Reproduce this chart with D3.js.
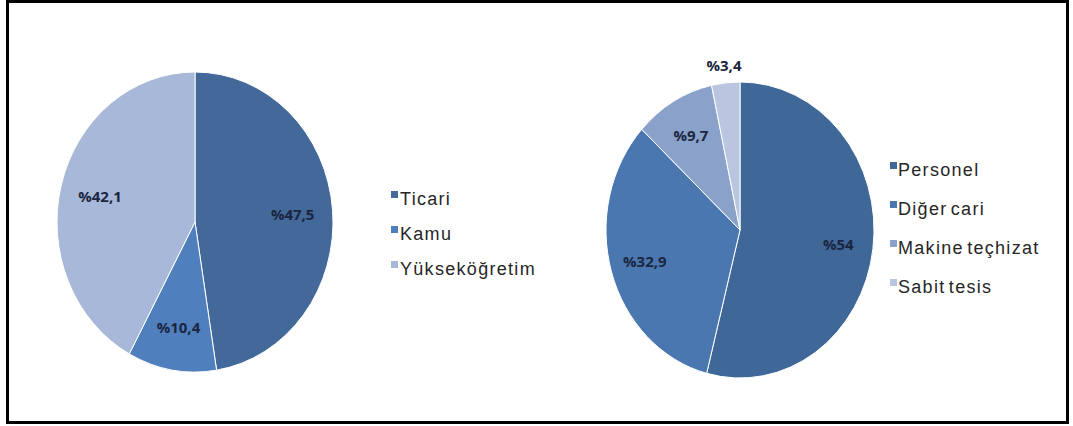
<!DOCTYPE html>
<html>
<head>
<meta charset="utf-8">
<script src="https://cdn.jsdelivr.net/npm/d3@7"></script>
<style>
  html, body { margin: 0; padding: 0; background: #fff; }
  svg { display: block; }
</style>
</head>
<body>
<svg id="chart" width="1073" height="426"></svg>
<script>
// ---- Data ----
const leftCategories = ["Ticari", "Kamu", "Yükseköğretim"];
const leftValues = [47.5, 10.4, 42.1];
const leftLabels = ["%47,5", "%10,4", "%42,1"];
const leftColors = ["#43689a", "#4f7fbd", "#a8b8d8"];

const rightCategories = ["Personel", "Diğer cari", "Makine teçhizat", "Sabit tesis"];
const rightValues = [54, 32.9, 9.7, 3.4];
const rightLabels = ["%54", "%32,9", "%9,7", "%3,4"];
const rightColors = ["#3f6797", "#4b77b0", "#8aa1c9", "#bac6e0"];

// ---- Layout ----
const svg = d3.select("#chart");
svg.append("rect")
  .attr("x", 7.5).attr("y", 1.5)
  .attr("width", 1060).attr("height", 421)
  .attr("fill", "#fff").attr("stroke", "#000").attr("stroke-width", 3);

function drawPie(cfg) {
  const pie = d3.pie().sort(null).value(d => d.v);
  const data = cfg.values.map((v, i) => ({ v, i }));
  const arcs = pie(data);
  const sy = cfg.ry / cfg.rx;
  const g = svg.append("g")
    .attr("transform", `translate(${cfg.cx},${cfg.cy}) scale(1,${sy})`);
  const arc = d3.arc().innerRadius(0).outerRadius(cfg.rx);
  g.selectAll("path").data(arcs).join("path")
    .attr("d", arc)
    .attr("fill", d => cfg.colors[d.data.i])
    .attr("stroke", "#ffffff")
    .attr("stroke-width", 1)
    .attr("vector-effect", "non-scaling-stroke");

  const total = d3.sum(cfg.values);
  const lg = svg.append("g").attr("transform", `translate(${cfg.cx},${cfg.cy})`);
  const fOf = d => d.data.v / total < 0.05 ? 1.12 : cfg.labelR;
  lg.selectAll("text").data(arcs).join("text")
    .attr("x", d => Math.sin((d.startAngle + d.endAngle) / 2) * cfg.rx * fOf(d))
    .attr("y", d => -Math.cos((d.startAngle + d.endAngle) / 2) * cfg.ry * fOf(d))
    .attr("text-anchor", "middle")
    .attr("dominant-baseline", "central")
    .attr("font-family", "'Open Sans', 'Liberation Sans', sans-serif")
    .attr("font-weight", "bold")
    .attr("font-size", 15)
    .attr("fill", "#1a2640")
    .text(d => cfg.labels[d.data.i]);

  // legend
  const leg = svg.append("g").attr("transform", `translate(${cfg.legX},${cfg.legY})`);
  const rows = leg.selectAll("g").data(cfg.categories).join("g")
    .attr("transform", (d, i) => `translate(0,${i * cfg.legStep})`);
  rows.append("rect")
    .attr("x", 0).attr("y", -14).attr("width", 7).attr("height", 7)
    .attr("fill", (d, i) => cfg.colors[i]);
  rows.append("text")
    .attr("x", cfg.legTextDx).attr("y", 0)
    .attr("font-family", "'Liberation Sans', Arial, sans-serif")
    .attr("font-size", 18)
    .attr("letter-spacing", 1.3)
    .attr("word-spacing", -3)
    .attr("fill", "#262626")
    .text(d => d);
}

drawPie({
  cx: 195, cy: 222, rx: 138, ry: 150, labelR: 0.71,
  values: leftValues, labels: leftLabels, colors: leftColors, categories: leftCategories,
  legX: 391, legY: 205, legStep: 35, legTextDx: 9
});

drawPie({
  cx: 740, cy: 230, rx: 134, ry: 148, labelR: 0.74,
  values: rightValues, labels: rightLabels, colors: rightColors, categories: rightCategories,
  legX: 890, legY: 176, legStep: 39, legTextDx: 8
});
</script>
</body>
</html>
